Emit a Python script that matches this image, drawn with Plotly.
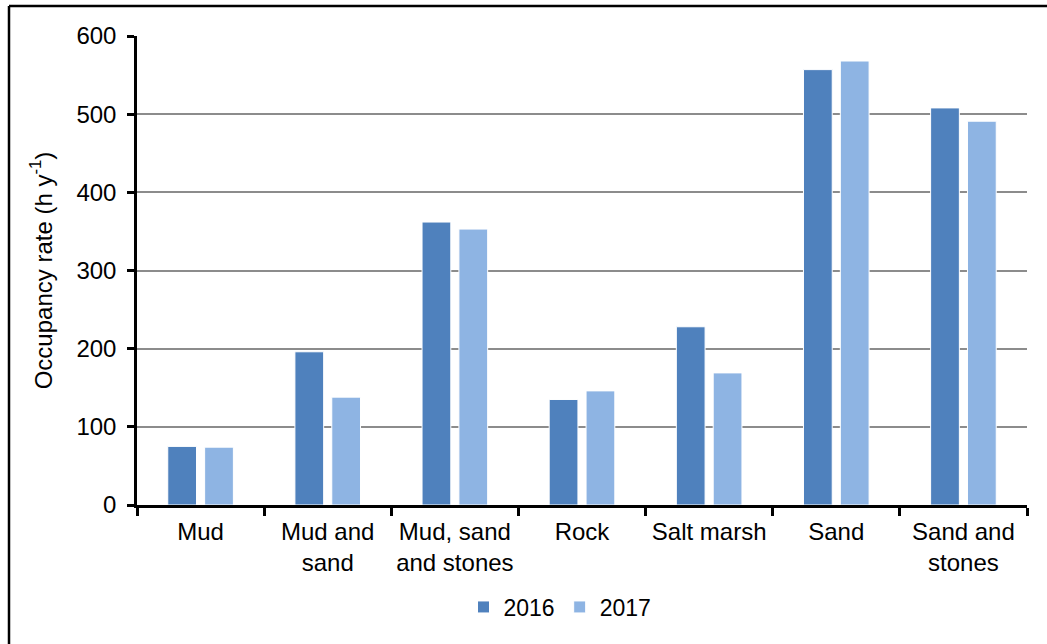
import plotly.graph_objects as go

categories = ["Mud", "Mud and<br>sand", "Mud, sand<br>and stones", "Rock", "Salt marsh", "Sand", "Sand and<br>stones"]
values_2016 = [75, 196, 362, 135, 228, 557, 508]
values_2017 = [74, 138, 353, 146, 169, 568, 491]
series_names = ["2016", "2017"]
y_ticks = [0, 100, 200, 300, 400, 500, 600]

W, H = 1047, 644
L, R, T, B = 137, 1027, 36, 505
pw, ph = R - L, B - T

def px(x):
    return (x - L) / pw

def py(y):
    return (B - y) / ph

fig = go.Figure()
fig.add_trace(go.Bar(x=categories, y=values_2016, name=series_names[0],
                     marker=dict(color="#4F81BD", line=dict(color="white", width=1))))
fig.add_trace(go.Bar(x=categories, y=values_2017, name=series_names[1],
                     marker=dict(color="#8EB4E3", line=dict(color="white", width=1))))

font = dict(family="Liberation Sans, Arial, sans-serif", size=24, color="black")
legend_font = dict(family="Liberation Sans, Arial, sans-serif", size=23, color="black")
fig.update_layout(
    width=W, height=H,
    margin=dict(l=L, r=W - R, t=T, b=H - B),
    paper_bgcolor="white", plot_bgcolor="white",
    font=font,
    barmode="group", bargap=0.42, bargroupgap=0.22,
    showlegend=True,
    legend=dict(orientation="h", x=px(560), y=py(607), xanchor="center", yanchor="middle",
                font=legend_font, itemwidth=30, traceorder="normal"),
    xaxis=dict(showline=True, linecolor="black", linewidth=2.5, ticks="outside",
               tickson="boundaries", ticklen=8, tickwidth=2.5, tickcolor="black",
               showgrid=False, tickfont=font, tickangle=0, ticklabelstandoff=3),
    yaxis=dict(range=[0, 600], tickvals=y_ticks, showline=True, linecolor="black",
               linewidth=2.5, ticks="outside", ticklen=7, tickwidth=2.5, tickcolor="black",
               showgrid=True, gridcolor="#8C8C8C", gridwidth=2, zeroline=False,
               tickfont=font, ticklabelstandoff=6,
               title=dict(text="Occupancy rate (h y<sup>-1</sup>)", font=font, standoff=18)),
    shapes=[
        dict(type="line", xref="paper", yref="paper", x0=px(9), x1=px(1047), y0=py(6), y1=py(6),
             line=dict(color="black", width=2.5)),
        dict(type="line", xref="paper", yref="paper", x0=px(9), x1=px(9), y0=py(6), y1=py(650),
             line=dict(color="black", width=2.5)),
    ],
)

fig.write_html("out.html", config={"displayModeBar": False},
               post_script="document.body.style.margin='0';document.body.style.overflow='hidden';")
